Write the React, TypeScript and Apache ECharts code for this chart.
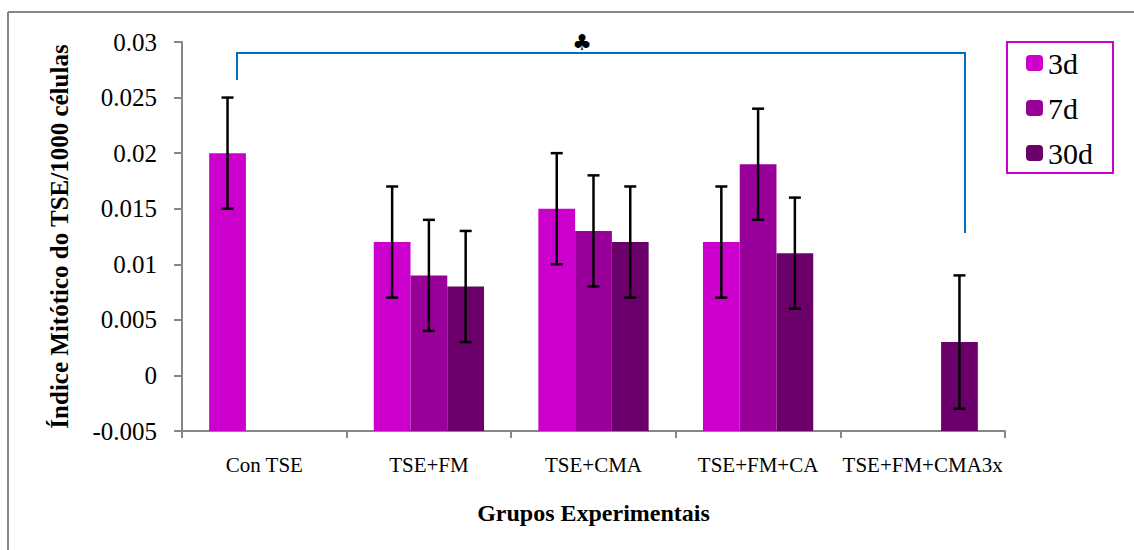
import React, { useEffect, useRef } from "react";
import * as echarts from "echarts";

const categories = ["Con TSE", "TSE+FM", "TSE+CMA", "TSE+FM+CA", "TSE+FM+CMA3x"];
const seriesNames = ["3d", "7d", "30d"];
const values3d = [0.02, 0.012, 0.015, 0.012, null];
const values7d = [null, 0.009, 0.013, 0.019, null];
const values30d = [null, 0.008, 0.012, 0.011, 0.003];
const err3d = [0.005, 0.005, 0.005, 0.005, null];
const err7d = [null, 0.005, 0.005, 0.005, null];
const err30d = [null, 0.005, 0.005, 0.005, 0.006];
const colors = ["#CC00CC", "#990099", "#6B006B"];
const yMin = -0.005;
const yMax = 0.03;
const yStep = 0.005;

const FONT = "Liberation Serif";

export default function App() {
  const ref = useRef<HTMLDivElement>(null);
  useEffect(() => {
    document.body.style.margin = "0";
    const chart = echarts.init(ref.current!, null, { renderer: "svg" });
    const allValues = [values3d, values7d, values30d];
    const allErr = [err3d, err7d, err30d];
    const catGap = 0.33;

    const barSeries = seriesNames.map((name, i) => ({
      name,
      type: "bar",
      data: allValues[i],
      barGap: "0%",
      barCategoryGap: "33%",
      itemStyle: { color: colors[i] },
      z: 2,
    }));

    const errSeries = seriesNames.map((name, i) => ({
      type: "custom",
      name: name + "-err",
      z: 5,
      data: allValues[i]
        .map((v, c) => (v == null || allErr[i][c] == null ? null : [c, v - (allErr[i][c] as number), v + (allErr[i][c] as number)]))
        .filter((d) => d !== null),
      renderItem: (params: any, api: any) => {
        const c = api.value(0);
        const lo = api.coord([c, api.value(1)]);
        const hi = api.coord([c, api.value(2)]);
        const band = api.size([1, 0])[0];
        const bw = (band * (1 - catGap)) / 3;
        const x = lo[0] + (i - 1) * bw;
        const cap = 6;
        const style = { stroke: "#000", lineWidth: 2.5 };
        return {
          type: "group",
          children: [
            { type: "line", shape: { x1: x, y1: lo[1], x2: x, y2: hi[1] }, style },
            { type: "line", shape: { x1: x - cap, y1: hi[1], x2: x + cap, y2: hi[1] }, style },
            { type: "line", shape: { x1: x - cap, y1: lo[1], x2: x + cap, y2: lo[1] }, style },
          ],
        };
      },
    }));

    chart.setOption({
      animation: false,
      backgroundColor: "#fff",
      textStyle: { fontFamily: FONT, color: "#000" },
      grid: { left: 182, right: 129, top: 42, bottom: 119, containLabel: false, outerBoundsMode: "none" },
      legend: {
        data: seriesNames,
        orient: "vertical",
        left: 1007,
        top: 42,
        itemWidth: 17,
        itemHeight: 16,
        itemGap: 15,
        padding: [6, 20, 5, 19],
        borderColor: "#CC00CC",
        borderWidth: 2,
        textStyle: { fontFamily: FONT, fontSize: 30, lineHeight: 28, color: "#000" },
        selectedMode: false,
      },
      xAxis: {
        type: "category",
        data: categories,
        boundaryGap: true,
        name: "Grupos Experimentais",
        nameLocation: "middle",
        nameGap: 70,
        nameTextStyle: { fontFamily: FONT, fontSize: 24, fontWeight: "bold", color: "#000" },
        axisLine: { onZero: false, lineStyle: { color: "#868686", width: 2 } },
        axisTick: { show: true, length: 7, alignWithLabel: false, lineStyle: { color: "#868686", width: 2 } },
        axisLabel: { fontFamily: FONT, fontSize: 21, color: "#000", margin: 23, interval: 0 },
        splitLine: { show: false },
      },
      yAxis: {
        type: "value",
        min: yMin,
        max: yMax,
        interval: yStep,
        startValue: yMin,
        name: "Índice Mitótico do TSE/1000 células",
        nameLocation: "middle",
        nameGap: 110,
        nameTextStyle: { fontFamily: FONT, fontSize: 25, fontWeight: "bold", color: "#000" },
        axisLine: { show: true, lineStyle: { color: "#868686", width: 2 } },
        axisTick: { show: true, length: 8, lineStyle: { color: "#868686", width: 2 } },
        axisLabel: {
          fontFamily: FONT,
          fontSize: 25,
          color: "#000",
          margin: 25,
          formatter: (v: number) => String(Number(v.toFixed(3))),
        },
        splitLine: { show: false },
      },
      series: [...barSeries, ...errSeries],
      graphic: [
        { type: "line", shape: { x1: 8, y1: 12, x2: 8, y2: 560 }, style: { stroke: "#868686", lineWidth: 2 } },
        { type: "line", shape: { x1: 8, y1: 12, x2: 1140, y2: 12 }, style: { stroke: "#868686", lineWidth: 2 } },
        {
          type: "polyline",
          shape: { points: [[237, 80], [237, 53], [965, 53], [965, 233]] },
          style: { stroke: "#0070C0", lineWidth: 2, fill: null },
        },
        {
          type: "text",
          x: 582,
          y: 42,
          style: { text: "♣", fontFamily: "DejaVu Sans", fontSize: 22, fill: "#000", align: "center", verticalAlign: "middle" },
        },
      ],
    });
    return () => chart.dispose();
  }, []);
  return <div ref={ref} style={{ width: 1134, height: 550 }} />;
}
